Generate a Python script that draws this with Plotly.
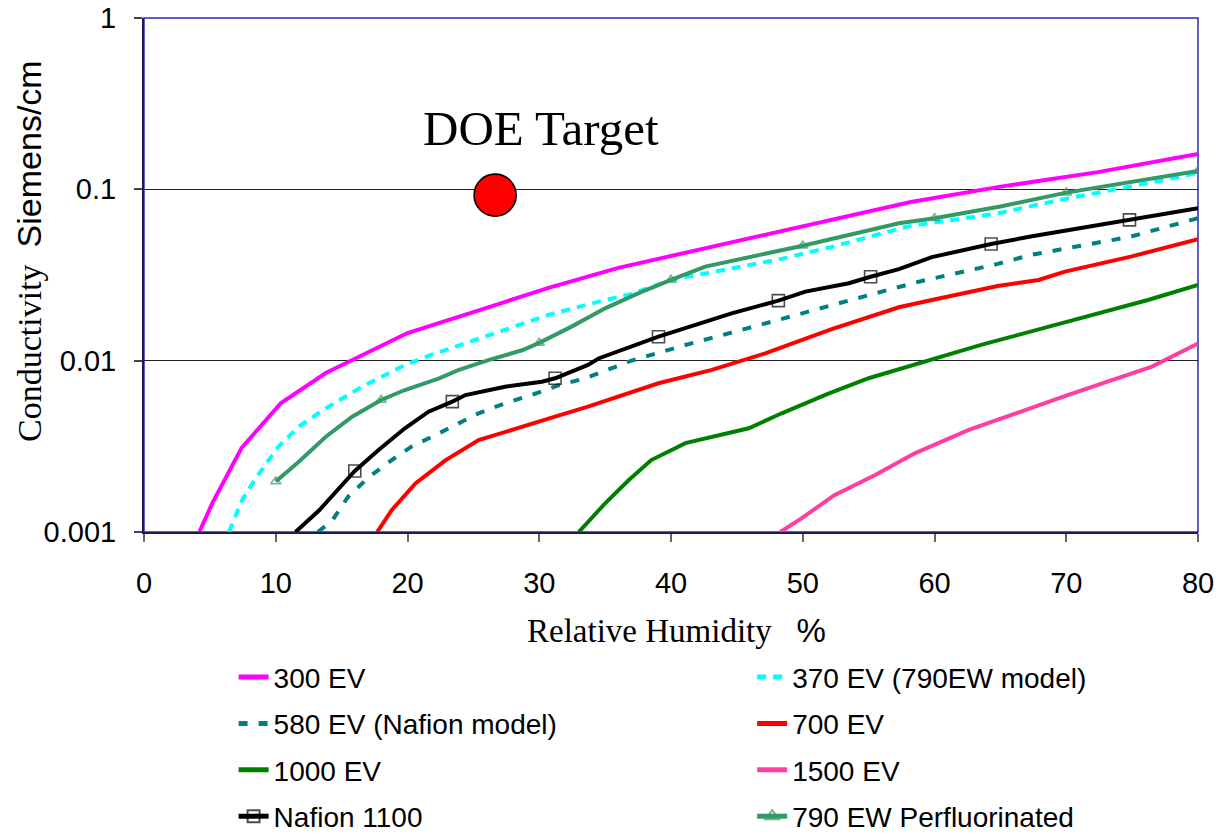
import plotly.graph_objects as go

# ---------------- data ----------------
EV300_X = [4.2, 5.2, 7.4, 10.4, 13.8, 17.3, 20.0, 26.9, 30.7, 36.0, 42.1, 49.7, 58.2, 64.8, 72.4, 80]
EV300_Y = [0.001, 0.00148, 0.00309, 0.00566, 0.00847, 0.0115, 0.0145, 0.0214, 0.0266, 0.0348,
           0.0443, 0.0595, 0.0844, 0.103, 0.126, 0.161]

EV370_X = [6.45, 7.45, 8.5, 10.2, 11.75, 13.8, 16.55, 19.8, 21.8, 26.9, 30.7, 34.5, 37.0, 40.0,
           44.6, 48.4, 52.2, 58.0, 64.8, 69.9, 77.5, 80]
EV370_Y = [0.001, 0.00154, 0.00207, 0.00315, 0.00412, 0.00527, 0.00705, 0.00944, 0.0108, 0.0148,
           0.0185, 0.0221, 0.0245, 0.0296, 0.0348, 0.0393, 0.0461, 0.0608, 0.0724, 0.0879, 0.1135, 0.125]

EV580_X = [13.2, 14.3, 15.5, 17.1, 18.8, 20.3, 22.4, 23.9, 25.4, 27.4, 29.4, 31.5, 33.5, 37.0,
           41.1, 44.9, 48.7, 52.2, 56.0, 58.8, 64.8, 67.3, 74.9, 80]
EV580_Y = [0.001, 0.00117, 0.00161, 0.0021, 0.00263, 0.00315, 0.00377, 0.00431, 0.00493, 0.00564,
           0.0063, 0.00721, 0.00789, 0.0100, 0.01235, 0.0148, 0.0177, 0.0211, 0.0253, 0.0289,
           0.0367, 0.0414, 0.053, 0.0678]

EV700_X = [17.7, 18.8, 20.6, 22.9, 25.4, 28.2, 31.2, 33.7, 35.3, 39.05, 43.1, 47.1, 52.2, 57.3,
           59.8, 64.8, 67.9, 69.9, 74.9, 80]
EV700_Y = [0.001, 0.00134, 0.00192, 0.00263, 0.00344, 0.00403, 0.00471, 0.00539, 0.0059, 0.00738,
           0.00883, 0.0110, 0.0153, 0.0205, 0.0226, 0.0273, 0.0296, 0.0331, 0.0405, 0.0512]

EV1000_X = [33.0, 35.0, 36.8, 38.5, 41.1, 43.1, 45.9, 48.4, 51.9, 55.0, 57.3, 59.5, 63.6, 70.1, 76.2, 80]
EV1000_Y = [0.001, 0.00147, 0.00201, 0.00263, 0.0033, 0.0036, 0.00403, 0.00493, 0.0064, 0.0079,
            0.0089, 0.0101, 0.0124, 0.0169, 0.0226, 0.0277]

EV1500_X = [48.3, 49.9, 52.4, 55.5, 58.5, 62.6, 70.1, 76.5, 80]
EV1500_Y = [0.001, 0.0012, 0.00164, 0.00215, 0.00288, 0.00394, 0.0063, 0.00923, 0.0126]

NAFION_X = [11.5, 13.3, 16.0, 17.8, 19.8, 21.6, 23.4, 24.4, 27.4, 30.2, 31.2, 33.7, 34.5, 39.05,
            44.6, 48.15, 50.2, 53.5, 55.15, 57.3, 59.8, 64.3, 67.3, 74.8, 80]
NAFION_Y = [0.001, 0.00134, 0.00227, 0.00301, 0.00403, 0.00504, 0.00577, 0.0063, 0.00705, 0.00754,
            0.00789, 0.00944, 0.0103, 0.0138, 0.0189, 0.0224, 0.0253, 0.0283, 0.0309, 0.0342,
            0.0402, 0.048, 0.053, 0.0663, 0.0776]
NAFION_MARKED_X = [16.0, 23.4, 31.2, 39.05, 48.15, 55.15, 64.3, 74.8]

EW790_X = [10, 11.75, 13.8, 15.8, 18.0, 19.8, 22.4, 23.9, 26.2, 28.7, 30, 32.45, 35.0, 37.5, 40,
           42.6, 50, 57.3, 60, 65, 70, 80]
EW790_Y = [0.00197, 0.00257, 0.0036, 0.00471, 0.0059, 0.00674, 0.00789, 0.00883, 0.0101, 0.0115,
           0.0127, 0.0158, 0.0202, 0.0247, 0.0296, 0.0354, 0.0469, 0.0634, 0.0678, 0.0794, 0.0957, 0.128]
EW790_MARKED_X = [10, 18.0, 30, 40, 50, 60, 70, 80]

DOE_X = [26.65]
DOE_Y = [0.0925]
DOE_LABEL = "DOE Target"

X_TICKS = [0, 10, 20, 30, 40, 50, 60, 70, 80]
Y_TICKS = [0.001, 0.01, 0.1, 1]
Y_TICK_TEXT = ["0.001", "0.01", "0.1", "1"]

# ---------------- figure ----------------
SANS = "Liberation Sans, Arial, sans-serif"
SERIF = "Liberation Serif, Times New Roman, serif"
LW = 4

fig = go.Figure()


def add_line(x, y, name, color, legend, dash=None, symbol=None, marked=None, msize=11):
    kw = dict(x=x, y=y, name=name, legend=legend, legendgroup=name,
              line=dict(color=color, width=LW, dash=dash))
    if symbol:
        sizes = [msize if v in marked else 0 for v in x]
        kw["mode"] = "lines+markers"
        kw["marker"] = dict(symbol=symbol, size=sizes, color=color,
                            line=dict(color=color, width=1.6))
    else:
        kw["mode"] = "lines"
    fig.add_trace(go.Scatter(**kw))


add_line(EV300_X, EV300_Y, "300 EV", "#FF00FF", "legend")
add_line(EV580_X, EV580_Y, "580 EV (Nafion model)", "#008080", "legend", dash="9px,11px")
add_line(EV1000_X, EV1000_Y, "1000 EV", "#008000", "legend")
add_line(NAFION_X, NAFION_Y, "Nafion 1100", "#000000", "legend",
         symbol="square-open", marked=NAFION_MARKED_X, msize=12)
add_line(EV370_X, EV370_Y, "370 EV (790EW model)", "#00FFFF", "legend2", dash="9px,7px")
add_line(EV700_X, EV700_Y, "700 EV", "#FF0000", "legend2")
add_line(EV1500_X, EV1500_Y, "1500 EV", "#FF3FA0", "legend2")
add_line(EW790_X, EW790_Y, "790 EW Perfluorinated", "#339966", "legend2",
         symbol="triangle-up-open", marked=EW790_MARKED_X, msize=9)

fig.add_trace(go.Scatter(x=DOE_X, y=DOE_Y, mode="markers", showlegend=False,
                         marker=dict(size=42, color="#FF0000",
                                     line=dict(color="black", width=1.6)),
                         cliponaxis=False))

fig.add_annotation(x=30.1, y=-0.645, xref="x", yref="y", text=DOE_LABEL, showarrow=False,
                   font=dict(family=SERIF, size=49, color="black"),
                   xanchor="center", yanchor="middle")

# axis titles (mixed serif / sans like the original)
fig.add_annotation(x=-0.109, y=0.547, xref="paper", yref="paper", textangle=-90,
                   text="Conductivity&nbsp;&nbsp;<span style=\"font-family:Liberation Sans\">Siemens/cm</span>",
                   showarrow=False, font=dict(family=SERIF, size=34, color="black"),
                   xanchor="center", yanchor="middle")
fig.add_annotation(x=0.505, y=-0.191, xref="paper", yref="paper",
                   text="Relative Humidity&nbsp;&nbsp;&nbsp;<span style=\"font-family:Liberation Sans\">%</span>",
                   showarrow=False, font=dict(family=SERIF, size=33, color="black"),
                   xanchor="center", yanchor="middle")

# plot frame (blue box)
fig.add_shape(type="rect", xref="paper", yref="paper", x0=0, y0=0, x1=1, y1=1,
              line=dict(color="#2B2BB0", width=1.5), layer="below")

legend_common = dict(font=dict(family=SANS, size=28, color="black"),
                     bgcolor="rgba(0,0,0,0)", orientation="v", tracegroupgap=7,
                     itemsizing="constant", xanchor="left", yanchor="top",
                     itemclick=False, itemdoubleclick=False)

fig.update_layout(
    width=1218, height=835,
    margin=dict(l=144, r=20, t=18, b=303, autoexpand=False),
    paper_bgcolor="white", plot_bgcolor="white",
    showlegend=True,
    legend=dict(x=0.085, y=-0.234, **legend_common),
    legend2=dict(x=0.577, y=-0.234, **legend_common),
    xaxis=dict(range=[0, 80], tickvals=X_TICKS, ticks="outside", ticklen=8, tickwidth=1.5,
               tickcolor="#666666", showgrid=False, zeroline=False,
               showline=True, linecolor="#1C1C55", linewidth=2,
               tickfont=dict(family=SANS, size=29, color="black"),
               ticklabelstandoff=16, automargin=False),
    yaxis=dict(type="log", range=[-3, 0], tickvals=Y_TICKS, ticktext=Y_TICK_TEXT,
               ticks="outside", ticklen=8, tickwidth=1.5, tickcolor="#444444",
               showgrid=True, gridcolor="#222222", gridwidth=1, zeroline=False,
               showline=True, linecolor="#1C1C55", linewidth=2,
               tickfont=dict(family=SANS, size=29, color="black"),
               ticklabelstandoff=12, automargin=False),
)

fig.write_html("out.html")
